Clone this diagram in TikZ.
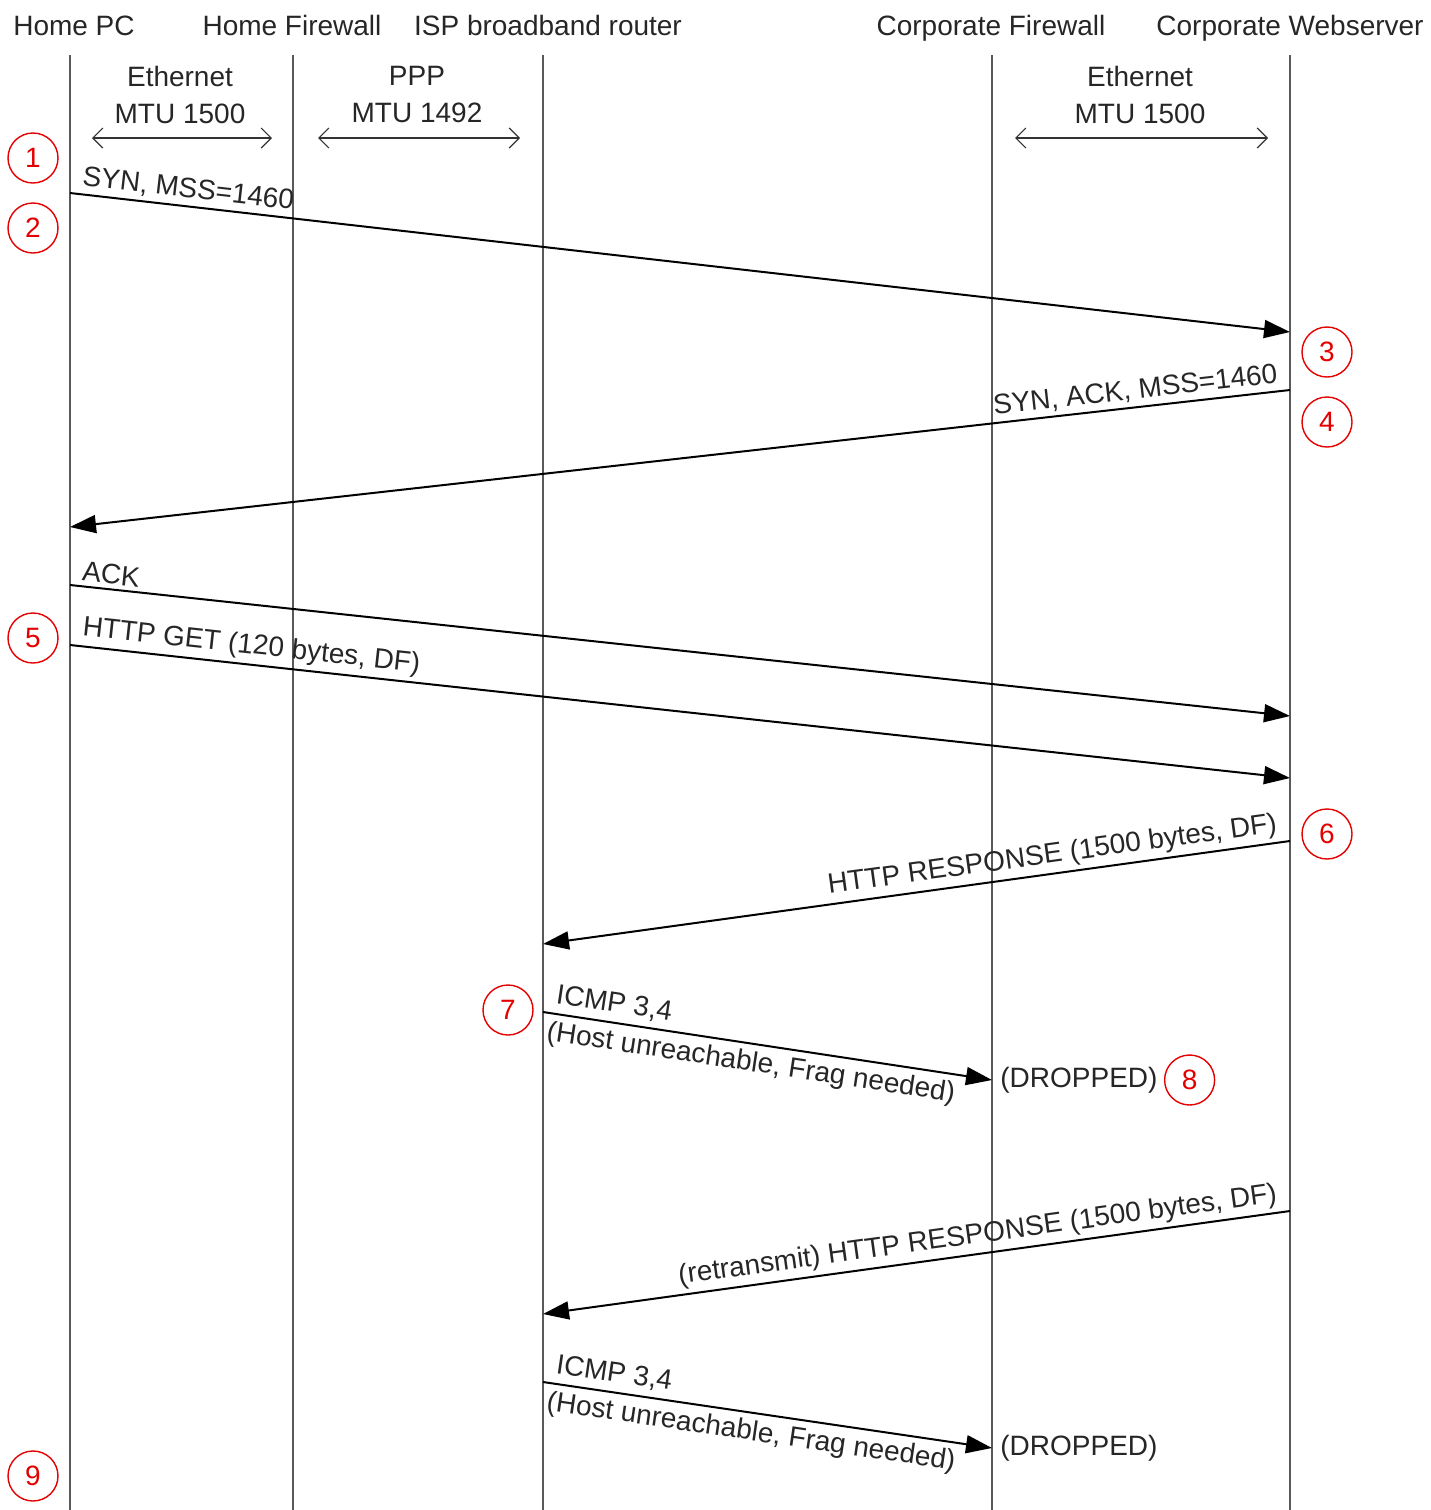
\documentclass[tikz,border=0pt]{standalone}
\usepackage{fontspec}
\setmainfont{Liberation Sans}
\usetikzlibrary{arrows.meta,positioning}

\begin{document}
\begin{tikzpicture}[x=0.5pt,y=-0.5pt,
  font=\fontsize{14}{18.5}\selectfont,
  lifeline/.style={draw=black!65,line width=1pt},
  msg/.style={draw=black,line width=1pt,-{Triangle[length=13pt,width=9pt]}},
  link/.style={draw=black!80,line width=0.6pt,
               {Straight Barb[length=5pt,width=10pt]}-{Straight Barb[length=5pt,width=10pt]}},
  header/.style={text=black!85,inner sep=0pt,anchor=base},
  medium/.style={text=black!85,align=center,inner sep=0pt},
  lbl/.style={sloped,text=black!85,inner xsep=5pt,inner ysep=2pt},
  stepnum/.style={circle,draw=red!90!black,text=red!90!black,line width=0.7pt,
                  minimum size=25pt,inner sep=0pt},
]
\useasboundingbox (0,0) rectangle (1430,1510);

% Headers
\node[header] (hpc) at (74,35) {Home PC};
\node[header] (hfw) at (292,35) {Home Firewall};
\node[header] (isp) at (548,35) {ISP broadband router};
\node[header] (cfw) at (991,35) {Corporate Firewall};
\node[header] (web) at (1290,35) {Corporate Webserver};

% Lifelines
\coordinate (hpc top) at (70,55);   \coordinate (hpc bot) at (70,1510);
\coordinate (hfw top) at (293,55);  \coordinate (hfw bot) at (293,1510);
\coordinate (isp top) at (543,55);  \coordinate (isp bot) at (543,1510);
\coordinate (cfw top) at (992,55);  \coordinate (cfw bot) at (992,1510);
\coordinate (web top) at (1290,55); \coordinate (web bot) at (1290,1510);
\draw[lifeline] (hpc top) -- (hpc bot);
\draw[lifeline] (hfw top) -- (hfw bot);
\draw[lifeline] (isp top) -- (isp bot);
\draw[lifeline] (cfw top) -- (cfw bot);
\draw[lifeline] (web top) -- (web bot);

% Link media
\node[medium] (eth1) at (180,95) {Ethernet\\MTU 1500};
\node[medium] (ppp) at (417,95) {PPP\\MTU 1492};
\node[medium] (eth2) at (1140,95) {Ethernet\\MTU 1500};
\coordinate (eth1 l) at (92,138);   \coordinate (eth1 r) at (272,138);
\coordinate (ppp l) at (318,138);   \coordinate (ppp r) at (520,138);
\coordinate (eth2 l) at (1015,138); \coordinate (eth2 r) at (1268,138);
\draw[link] (eth1 l) -- (eth1 r);
\draw[link] (ppp l) -- (ppp r);
\draw[link] (eth2 l) -- (eth2 r);

% Handshake
\coordinate (syn a) at (70,193);    \coordinate (syn b) at (1290,332);
\draw[msg] (syn a) -- node[lbl,pos=0,anchor=south west] {SYN, MSS=1460} (syn b);
\coordinate (synack a) at (1290,390); \coordinate (synack b) at (70,527);
\draw[msg] (synack a) -- node[lbl,pos=0,anchor=south east] {SYN, ACK, MSS=1460} (synack b);
\coordinate (ack a) at (70,585);    \coordinate (ack b) at (1290,716);
\draw[msg] (ack a) -- node[lbl,pos=0,anchor=south west] {ACK} (ack b);

% Request and response
\coordinate (get a) at (70,645);    \coordinate (get b) at (1290,778);
\draw[msg] (get a) -- node[lbl,pos=0,anchor=south west] {HTTP GET (120 bytes, DF)} (get b);
\coordinate (resp a) at (1290,841); \coordinate (resp b) at (543,944);
\draw[msg] (resp a) -- node[lbl,pos=0,anchor=south east] {HTTP RESPONSE (1500 bytes, DF)} (resp b);

% ICMP back to the server
\coordinate (icmp a) at (543,1012); \coordinate (icmp b) at (992,1080);
\draw[msg] (icmp a) -- node[lbl,pos=0,anchor=south west,inner ysep=3pt] {ICMP 3,4}
  node[lbl,pos=0,anchor=north west,inner xsep=3pt,inner ysep=3pt] {(Host unreachable, Frag needed)} (icmp b);
\node[text=black!85,right=4pt of icmp b,inner sep=0pt] (drop1) {(DROPPED)};

% Retransmission
\coordinate (retr a) at (1290,1211); \coordinate (retr b) at (543,1314);
\draw[msg] (retr a) -- node[lbl,pos=0,anchor=south east] {(retransmit) HTTP RESPONSE (1500 bytes, DF)} (retr b);
\coordinate (icmp2 a) at (543,1382); \coordinate (icmp2 b) at (992,1448);
\draw[msg] (icmp2 a) -- node[lbl,pos=0,anchor=south west,inner ysep=3pt] {ICMP 3,4}
  node[lbl,pos=0,anchor=north west,inner xsep=3pt,inner ysep=3pt] {(Host unreachable, Frag needed)} (icmp2 b);
\node[text=black!85,right=4pt of icmp2 b,inner sep=0pt] (drop2) {(DROPPED)};

% Step numbers
\node[stepnum] (s1) at (33,158) {1};
\node[stepnum] (s2) at (33,228) {2};
\node[stepnum] (s3) at (1327,352) {3};
\node[stepnum] (s4) at (1327,422) {4};
\node[stepnum] (s5) at (33,638) {5};
\node[stepnum] (s6) at (1327,834) {6};
\node[stepnum] (s7) at (508,1010) {7};
\node[stepnum,right=3pt of drop1] (s8) {8};
\node[stepnum] (s9) at (33,1476) {9};

\end{tikzpicture}
\end{document}
